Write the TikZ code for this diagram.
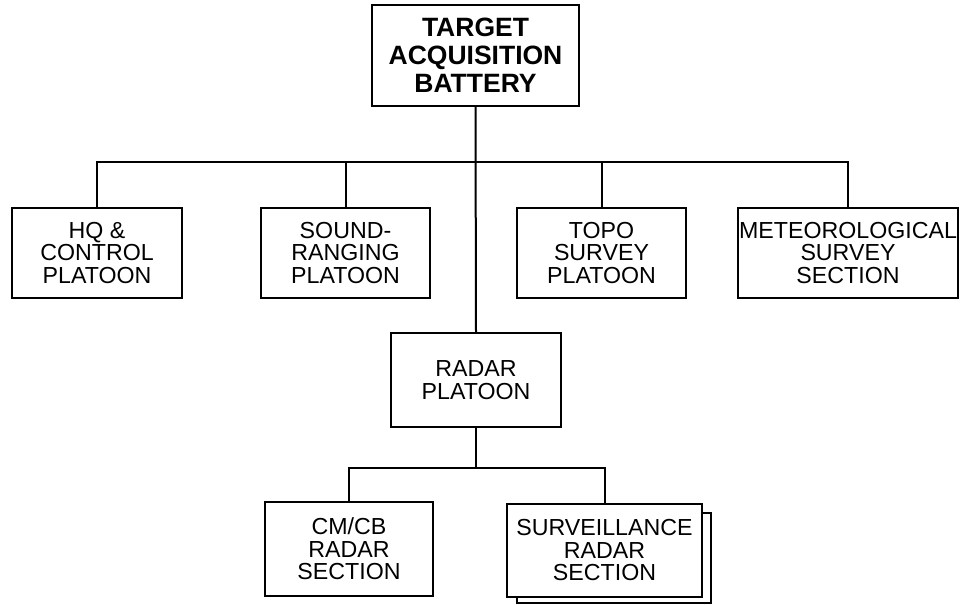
\documentclass[tikz,border=0pt]{standalone}
\usepackage{fontspec}
\setmainfont{Liberation Sans}
\begin{document}
\begin{tikzpicture}[x=1pt,y=-1pt,
  unit/.style={draw, line width=2pt, fill=white, rectangle, inner sep=0pt, align=center,
    font=\fontsize{23.2}{22.5}\selectfont},
  link/.style={line width=2pt}]
\useasboundingbox (0,0) rectangle (962,605);
% top
\node[unit, minimum width=207pt, minimum height=101pt, font=\bfseries\fontsize{26.5}{28}\selectfont] (top) at (475.5,55.5) {TARGET\\ACQUISITION\\BATTERY};
% second row
\node[unit, minimum width=170pt, minimum height=90pt] (hq) at (97,253) {HQ \&\\CONTROL\\PLATOON};
\node[unit, minimum width=169pt, minimum height=90pt] (sound) at (345.5,253) {SOUND-\\RANGING\\PLATOON};
\node[unit, minimum width=169pt, minimum height=90pt] (topo) at (601.5,253) {TOPO\\SURVEY\\PLATOON};
\node[unit, minimum width=220pt, minimum height=90pt] (met) at (848,253) {METEOROLOGICAL\\SURVEY\\SECTION};
% radar
\node[unit, minimum width=170pt, minimum height=94pt] (radar) at (476,380) {RADAR\\PLATOON};
% third row
\node[unit, minimum width=168pt, minimum height=94pt] (cmcb) at (349,549) {CM/CB\\RADAR\\SECTION};
\node[unit, minimum width=194pt, minimum height=90pt] (survback) at (614,558) {};
\node[unit, minimum width=195pt, minimum height=93pt] (surv) at (604.5,550.5) {SURVEILLANCE\\RADAR\\SECTION};
% connectors
\coordinate (busL) at (hq.north |- 0,162);
\coordinate (busR) at (met.north |- 0,162);
\draw[link] (top.south) -- (radar.north);
\draw[link] (hq.north) -- (busL) -- (busR) -- (met.north);
\draw[link] (sound.north) -- (sound.north |- busL);
\draw[link] (topo.north) -- (topo.north |- busL);
\coordinate (bus2L) at (cmcb.north |- 0,468);
\coordinate (bus2R) at (surv.north |- 0,468);
\draw[link] (radar.south) -- (radar.south |- bus2L);
\draw[link] (cmcb.north) -- (bus2L) -- (bus2R) -- (surv.north);
\end{tikzpicture}
\end{document}
